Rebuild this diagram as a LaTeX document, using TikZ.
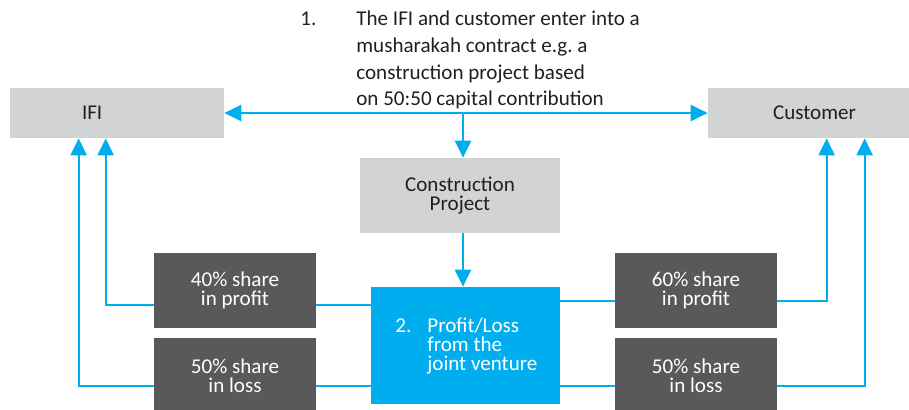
\documentclass[tikz,border=0pt]{standalone}
\usepackage{fontspec}
\setmainfont{Carlito}
\usetikzlibrary{arrows.meta}
\definecolor{boxgrey}{HTML}{D1D3D4}
\definecolor{darkgrey}{HTML}{58595B}
\definecolor{jvblue}{HTML}{00AEEF}
\definecolor{inkgrey}{HTML}{231F20}
\begin{document}
\begin{tikzpicture}[x=0.02cm, y=-0.02cm,
    lightbox/.style={fill=boxgrey, text=inkgrey, font=\fontsize{12}{10.8}\selectfont, inner ysep=0pt, minimum height=1cm},
    sharebox/.style={fill=darkgrey, text=white, align=center, font=\fontsize{12}{10.8}\selectfont, minimum width=3.24cm, minimum height=1.5cm},
    flow/.style={draw=jvblue, line width=1.3pt},
    >={Triangle[length=3.4mm,width=3.2mm]}]
    \useasboundingbox (0,0) rectangle (909,409);
    % parties
    \node[lightbox, inner xsep=1.44cm, text width=1.4cm, align=left] (ifi) at (117,113) {IFI};
    \node[lightbox, inner xsep=1.3cm, text width=1.7cm, align=left] (cust) at (815.5,113) {Customer};
    \node[anchor=base west, inner sep=0pt, text=inkgrey, font=\fontsize{12}{15.1}\selectfont] (num1) at (300,26) {1.};
    \node[anchor=north west, inner sep=0pt, text=inkgrey, align=left, font=\fontsize{12}{15.1}\selectfont] (step1) at (356,11)
        {The IFI and customer enter into a\\musharakah contract e.g.\ a\\construction project based\\on 50:50 capital contribution};
    % venture
    \node[lightbox, minimum width=4cm, minimum height=1.5cm, align=center] (proj) at (460,195.5) {Construction\\Project};
    \node[fill=jvblue, minimum width=3.78cm, minimum height=2.34cm, inner sep=0pt] (jv) at (465.5,345.5) {};
    \node[anchor=base west, inner sep=0pt, text=white, font=\fontsize{12}{10.8}\selectfont] (num2) at (395,332) {2.};
    \node[anchor=north west, inner sep=0pt, text=white, align=left, font=\fontsize{12}{10.8}\selectfont] (step2) at (427,317.2)
        {Profit/Loss\\from the\\joint venture};
    % shares
    \node[sharebox] (p40) at (235,290.5) {40\% share\\in profit};
    \node[sharebox] (l50a) at (235,375.5) {50\% share\\in loss};
    \node[sharebox] (p60) at (696,290.5) {60\% share\\in profit};
    \node[sharebox] (l50b) at (696,375.5) {50\% share\\in loss};
    \coordinate (lvlA) at (0,305);
    \coordinate (lvlB) at (0,301);
    \coordinate (lvlC) at (0,386);
    % connectors
    \draw[flow, <->] (ifi.east) -- (cust.west);
    \draw[flow, ->] ([xshift=0.06cm]proj.north |- ifi.east) -- ([xshift=0.06cm]proj.north);
    \draw[flow, ->] ([xshift=0.06cm]proj.south) -- ([xshift=0.06cm]proj.south |- jv.north);
    \draw[flow] (jv.west |- lvlA) -- (p40.east |- lvlA);
    \draw[flow, ->] (p40.west |- lvlA) -| ([xshift=1.92cm]ifi.south west);
    \draw[flow] (jv.west |- lvlC) -- (l50a.east |- lvlC);
    \draw[flow, ->] (l50a.west |- lvlC) -| ([xshift=1.38cm]ifi.south west);
    \draw[flow] (jv.east |- lvlB) -- (p60.west |- lvlB);
    \draw[flow, ->] (p60.east |- lvlB) -| ([xshift=2.38cm]cust.south west);
    \draw[flow] (jv.east |- lvlC) -- (l50b.west |- lvlC);
    \draw[flow, ->] (l50b.east |- lvlC) -| ([xshift=3.14cm]cust.south west);
\end{tikzpicture}
\end{document}
